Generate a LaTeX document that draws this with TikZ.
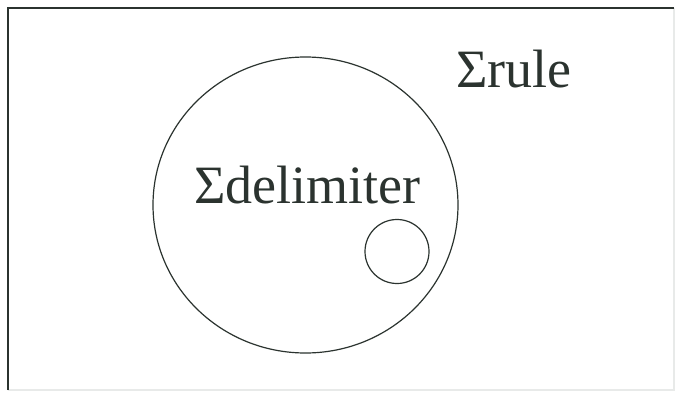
\documentclass[tikz,border=0pt]{standalone}
\usetikzlibrary{shapes.geometric}
\usepackage{fontspec}
\setmainfont{Liberation Serif}
\definecolor{ink}{HTML}{2B332F}
\definecolor{faint}{HTML}{E8EAE9}
\tikzset{
  setline/.style={draw=ink, line width=1.2pt},
  settext/.style={inner sep=0pt, anchor=base west, text=ink, font=\fontsize{54}{62}\selectfont}
}
\begin{document}
\begin{tikzpicture}[x=1pt,y=1pt]
\useasboundingbox (0,0) rectangle (675,392);
\fill[white] (0,0) rectangle (675,392);
% frame
\coordinate (bl) at (8,2);
\coordinate (tl) at (8,384);
\coordinate (tr) at (674,384);
\coordinate (br) at (674,2);
\draw[faint, line width=1.2pt] (tr) -- (br) -- (bl);
\draw[ink, line width=1.6pt] (bl) -- (tl) -- (tr);
% sets
\node[setline, ellipse, minimum width=305pt, minimum height=296pt, inner sep=0pt] (delim) at (305.5,187) {};
\node[settext] (dlabel) at (194,189) {Σdelimiter};
\node[setline, circle, minimum size=64pt, inner sep=0pt] (inner) at (397,140.5) {};
\node[settext] (rlabel) at (456,305) {Σrule};
\end{tikzpicture}
\end{document}
